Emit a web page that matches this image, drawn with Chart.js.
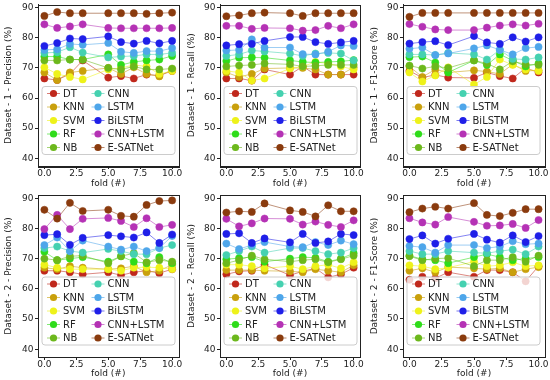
<!DOCTYPE html>
<html>
<head>
<meta charset="utf-8">
<script src="https://cdn.jsdelivr.net/npm/chart.js@4.4.0/dist/chart.umd.min.js"></script>
<style>
  body { margin: 0; background: #fff; }
  #wrap { position: relative; width: 550px; height: 380px; }
  canvas { position: absolute; }
</style>
</head>
<body>
<div id="wrap"></div>
<script>
// fold positions (fold 4 is missing in the source figure)
const folds = [0, 1, 2, 3, 5, 6, 7, 8, 9, 10];
const models = ['DT', 'KNN', 'SVM', 'RF', 'NB', 'CNN', 'LSTM', 'BiLSTM', 'CNN+LSTM', 'E-SATNet'];
const colors = ['#c0281c', '#c9a00c', '#eef21a', '#2fdc1a', '#6cb81c',
                '#45d1b0', '#4ea6ea', '#1f1fe8', '#b532b5', '#8a3b0e'];
const xTicks = [0, 2.5, 5, 7.5, 10];
const yTicks = [40, 50, 60, 70, 80, 90];

// one row per model, in the order of `models`
const ds1Precision = [
  [66.5, 66.0, 68.0, 72.5, 66.8, 67.3, 66.5, 67.8, 67.5, 69.0],
  [68.5, 66.0, 68.5, 69.0, 70.0, 68.0, 70.2, 68.0, 67.2, 69.5],
  [70.2, 68.0, 67.0, 66.2, 69.5, 70.0, 71.0, 70.5, 68.0, 69.0],
  [73.8, 73.8, 72.8, 72.8, 74.5, 71.0, 72.0, 72.5, 72.8, 74.0],
  [72.5, 72.5, 72.8, 72.8, 70.0, 69.5, 70.5, 69.5, 69.5, 69.8],
  [75.0, 75.2, 76.9, 75.1, 73.5, 73.8, 74.0, 74.5, 74.5, 75.0],
  [76.0, 76.2, 78.0, 77.7, 78.3, 75.4, 75.0, 75.6, 75.6, 76.6],
  [77.3, 78.3, 79.8, 79.6, 80.5, 78.6, 78.1, 79.0, 78.2, 79.0],
  [84.5, 83.3, 83.8, 84.5, 83.3, 83.2, 83.2, 83.2, 83.2, 83.3],
  [87.3, 88.6, 88.2, 88.2, 88.2, 88.2, 88.2, 88.0, 88.2, 88.4]
];
const ds1Recall = [
  [66.5, 66.5, 65.8, 69.5, 67.8, 70.5, 67.8, 67.8, 67.8, 67.8],
  [68.5, 67.0, 68.0, 69.8, 70.0, 70.0, 69.5, 67.8, 67.8, 70.2],
  [69.0, 68.5, 65.8, 66.5, 69.8, 70.5, 72.0, 71.5, 70.5, 69.5],
  [72.3, 73.4, 73.5, 73.4, 72.5, 72.0, 71.8, 72.0, 72.2, 72.6],
  [70.5, 70.8, 71.0, 71.5, 71.2, 70.5, 70.7, 71.0, 71.0, 71.0],
  [74.0, 74.5, 75.8, 75.5, 74.8, 74.0, 74.8, 75.0, 74.8, 72.5],
  [75.8, 76.0, 79.5, 76.8, 76.8, 74.6, 74.5, 75.4, 77.5, 77.3],
  [77.5, 77.9, 78.0, 79.0, 80.3, 80.3, 78.6, 78.0, 78.5, 79.0],
  [84.0, 84.0, 83.0, 83.3, 83.2, 82.4, 82.6, 84.0, 83.2, 84.5],
  [87.2, 87.5, 88.2, 88.4, 88.2, 87.3, 88.2, 88.2, 88.2, 88.2]
];
const ds1F1 = [
  [69.0, 66.8, 67.7, 66.8, 66.7, 68.5, 67.3, 66.5, 70.0, 68.5],
  [70.5, 67.0, 69.5, 68.5, 69.2, 68.8, 68.0, 71.2, 69.0, 69.2],
  [68.5, 65.5, 67.5, 70.2, 64.5, 67.0, 72.8, 71.0, 69.5, 69.0],
  [73.6, 73.8, 71.8, 68.5, 72.5, 71.0, 74.5, 72.5, 70.5, 71.5],
  [70.8, 69.8, 70.5, 70.0, 72.5, 71.5, 69.5, 72.2, 71.2, 71.0],
  [74.5, 74.5, 74.3, 75.0, 74.5, 72.8, 76.0, 73.0, 72.8, 73.5],
  [76.4, 76.8, 74.3, 74.8, 76.5, 77.5, 76.0, 74.5, 76.6, 77.0],
  [78.1, 78.6, 78.9, 77.6, 80.6, 78.5, 78.0, 80.2, 78.8, 80.2],
  [84.6, 83.7, 82.8, 82.6, 82.6, 83.4, 84.1, 84.5, 84.1, 84.7],
  [87.0, 88.3, 88.3, 88.3, 88.3, 88.3, 88.3, 88.3, 88.3, 88.3]
];
const ds2Precision = [
  [66.0, 66.0, 65.5, 64.8, 65.5, 64.5, 65.5, 66.0, 65.2, 66.5],
  [67.0, 66.5, 67.5, 67.0, 66.5, 66.8, 67.5, 65.5, 66.0, 68.0],
  [68.0, 67.0, 66.5, 66.5, 66.5, 66.0, 67.0, 67.2, 67.0, 66.5],
  [72.3, 69.5, 70.0, 70.5, 69.0, 70.8, 69.0, 68.5, 70.5, 68.5],
  [70.0, 69.5, 70.8, 71.0, 68.5, 70.8, 71.8, 68.8, 69.5, 69.0],
  [73.5, 74.0, 72.5, 72.0, 73.2, 72.5, 71.5, 71.5, 73.5, 74.5],
  [74.5, 77.0, 72.5, 76.0, 74.0, 73.0, 74.0, 72.5, 73.5, 77.5],
  [77.8, 78.1, 74.6, 76.9, 77.8, 77.4, 77.0, 78.7, 75.2, 78.0],
  [79.8, 84.5, 79.8, 83.2, 83.5, 82.5, 80.5, 83.4, 80.5, 81.2],
  [86.2, 83.3, 88.5, 85.8, 86.2, 84.2, 83.9, 87.8, 89.1, 89.3]
];
const ds2Recall = [
  [64.8, 65.8, 66.0, 68.0, 64.5, 65.8, 66.8, 63.8, 64.8, 67.0],
  [66.2, 66.2, 66.2, 66.0, 65.8, 65.5, 66.5, 66.0, 65.5, 67.8],
  [68.0, 68.0, 67.5, 66.8, 67.5, 66.5, 67.5, 68.0, 66.8, 68.8],
  [69.8, 70.2, 70.5, 69.0, 70.0, 70.5, 70.3, 69.0, 70.0, 71.8],
  [68.5, 69.5, 71.0, 69.8, 69.0, 69.5, 69.8, 68.8, 69.8, 71.0],
  [71.2, 72.5, 74.0, 72.0, 73.5, 73.5, 72.5, 71.5, 72.0, 73.5],
  [75.0, 73.2, 74.5, 75.5, 74.0, 73.8, 75.5, 74.5, 76.0, 74.8],
  [78.2, 78.4, 75.2, 76.7, 75.4, 78.2, 75.2, 75.7, 78.2, 77.8],
  [83.2, 80.7, 81.7, 83.3, 83.2, 81.3, 82.3, 81.2, 80.5, 82.7],
  [85.3, 85.7, 85.5, 88.3, 86.0, 85.5, 84.0, 87.7, 85.7, 85.7]
];
const ds2F1 = [
  [63.0, 64.0, 63.5, 65.5, 64.0, 66.2, 66.2, 65.5, 62.5, 67.5],
  [66.0, 66.8, 65.5, 67.2, 66.8, 66.5, 66.8, 65.5, 66.5, 67.2],
  [67.8, 67.5, 66.5, 67.0, 69.0, 67.5, 67.8, 68.8, 67.5, 67.8],
  [71.0, 69.8, 69.5, 68.5, 70.5, 71.5, 70.5, 69.5, 70.0, 70.5],
  [70.8, 69.5, 70.0, 70.2, 67.5, 69.5, 69.5, 70.5, 69.0, 71.0],
  [72.5, 71.5, 71.5, 72.5, 72.0, 71.8, 72.5, 73.0, 71.5, 74.0],
  [74.2, 73.8, 72.0, 74.5, 74.5, 73.5, 74.0, 75.8, 74.8, 75.0],
  [76.5, 77.7, 75.0, 76.6, 78.2, 76.3, 75.3, 77.7, 75.5, 77.5],
  [83.4, 82.0, 81.3, 83.8, 82.2, 80.9, 81.0, 81.5, 80.2, 82.8],
  [85.4, 86.6, 87.2, 86.6, 88.4, 84.5, 84.1, 85.2, 86.4, 86.4]
];

const panels = [
  { title: 'Dataset - 1 - Precision (%)', rows: ds1Precision, col: 0, row: 0 },
  { title: 'Dataset - 1 - Recall (%)',    rows: ds1Recall,    col: 1, row: 0 },
  { title: 'Dataset - 1 - F1-Score (%)',  rows: ds1F1,        col: 2, row: 0 },
  { title: 'Dataset - 2 - Precision (%)', rows: ds2Precision, col: 0, row: 1 },
  { title: 'Dataset - 2 - Recall (%)',    rows: ds2Recall,    col: 1, row: 1 },
  { title: 'Dataset - 2 - F1-Score (%)',  rows: ds2F1,        col: 2, row: 1 }
];

// cell geometry
const colBoxes = [
  { left: 0,   width: 183, axisW: 38, padR: 3 },
  { left: 183, width: 183, axisW: 37, padR: 6 },
  { left: 366, width: 184, axisW: 37, padR: 5 }
];
const rowBoxes = [
  { top: 0,   height: 190, padT: 4, axisH: 24 },
  { top: 190, height: 190, padT: 5, axisH: 23 }
];

const ink = '#222';
const axisFont = { family: "'DejaVu Sans', sans-serif", size: 9, lineHeight: 1.1 };
Chart.defaults.font.family = "'DejaVu Sans', sans-serif";

function fade(hex, a) {
  const n = parseInt(hex.slice(1), 16);
  return `rgba(${n >> 16}, ${(n >> 8) & 255}, ${n & 255}, ${a})`;
}

// full box around the plot area, like a matplotlib axes frame
const framePlugin = {
  id: 'frame',
  afterDraw(chart) {
    const { ctx, chartArea: a } = chart;
    ctx.save();
    ctx.strokeStyle = ink;
    ctx.lineWidth = 1;
    ctx.strokeRect(Math.round(a.left) + 0.5, Math.round(a.top) + 0.5,
                   Math.round(a.right - a.left), Math.round(a.bottom - a.top));
    ctx.restore();
  }
};

// two-column legend drawn inside the plot area
const legendPlugin = {
  id: 'innerLegend',
  afterDatasetsDraw(chart) {
    const { ctx, chartArea: a } = chart;
    const x0 = a.left + 4, y0 = a.top + 82, w = 133, h = 68, r = 3;
    ctx.save();
    ctx.beginPath();
    ctx.moveTo(x0 + r, y0);
    ctx.lineTo(x0 + w - r, y0);
    ctx.arcTo(x0 + w, y0, x0 + w, y0 + r, r);
    ctx.lineTo(x0 + w, y0 + h - r);
    ctx.arcTo(x0 + w, y0 + h, x0 + w - r, y0 + h, r);
    ctx.lineTo(x0 + r, y0 + h);
    ctx.arcTo(x0, y0 + h, x0, y0 + h - r, r);
    ctx.lineTo(x0, y0 + r);
    ctx.arcTo(x0, y0, x0 + r, y0, r);
    ctx.closePath();
    ctx.fillStyle = 'rgba(255,255,255,0.8)';
    ctx.fill();
    ctx.strokeStyle = '#cccccc';
    ctx.lineWidth = 1;
    ctx.stroke();

    ctx.font = "10px 'DejaVu Sans', sans-serif";
    ctx.textBaseline = 'middle';
    ctx.textAlign = 'left';
    models.forEach((m, i) => {
      const cx = x0 + (i < 5 ? 0 : 44.5);
      const cy = y0 + 7 + (i % 5) * 13.5;
      ctx.strokeStyle = fade(colors[i], 0.6);
      ctx.beginPath();
      ctx.moveTo(cx + 5, cy);
      ctx.lineTo(cx + 18, cy);
      ctx.stroke();
      ctx.fillStyle = colors[i];
      ctx.beginPath();
      ctx.arc(cx + 11.5, cy, 3.6, 0, Math.PI * 2);
      ctx.fill();
      ctx.fillStyle = ink;
      ctx.fillText(m, cx + 21, cy + 0.5);
    });
    ctx.restore();
  }
};

const wrap = document.getElementById('wrap');

panels.forEach(p => {
  const c = colBoxes[p.col], r = rowBoxes[p.row];
  const cv = document.createElement('canvas');
  cv.width = c.width;
  cv.height = r.height;
  cv.style.left = c.left + 'px';
  cv.style.top = r.top + 'px';
  cv.style.width = c.width + 'px';
  cv.style.height = r.height + 'px';
  wrap.appendChild(cv);

  new Chart(cv, {
    type: 'line',
    data: {
      datasets: models.map((m, i) => ({
        label: m,
        data: folds.map((f, k) => ({ x: f, y: p.rows[i][k] })),
        borderColor: fade(colors[i], 0.55),
        backgroundColor: colors[i],
        pointBackgroundColor: colors[i],
        pointBorderColor: colors[i],
        pointBorderWidth: 0.5,
        pointRadius: 3.6,
        borderWidth: 1,
        tension: 0,
        order: models.length - i
      }))
    },
    options: {
      responsive: false,
      animation: false,
      devicePixelRatio: 1,
      layout: { padding: { left: 0, top: r.padT, right: c.padR, bottom: 0 } },
      plugins: {
        legend: { display: false },
        tooltip: { enabled: false }
      },
      scales: {
        x: {
          type: 'linear',
          min: -0.5,
          max: 10.5,
          afterBuildTicks: s => { s.ticks = xTicks.map(v => ({ value: v })); },
          afterFit: s => { s.height = r.axisH; s.paddingLeft = 0; s.paddingRight = 0; },
          ticks: {
            callback: v => v.toFixed(1),
            font: axisFont, color: ink, padding: 0,
            maxRotation: 0, autoSkip: false
          },
          grid: { drawOnChartArea: false, tickLength: 3, color: ink },
          border: { color: ink },
          title: {
            display: true, text: 'fold (#)', font: axisFont, color: ink,
            padding: { top: 0, bottom: 1 }
          }
        },
        y: {
          min: 37.4,
          max: 91.1,
          afterBuildTicks: s => { s.ticks = yTicks.map(v => ({ value: v })); },
          afterFit: s => { s.width = c.axisW; s.paddingTop = 0; s.paddingBottom = 0; },
          ticks: { font: axisFont, color: ink, padding: 1.5 },
          grid: { drawOnChartArea: false, tickLength: 3, color: ink },
          border: { color: ink },
          title: {
            display: true, text: p.title, font: axisFont, color: ink,
            padding: { top: 4, bottom: 2 }
          }
        }
      }
    },
    plugins: [framePlugin, legendPlugin]
  });
});
</script>
</body>
</html>
